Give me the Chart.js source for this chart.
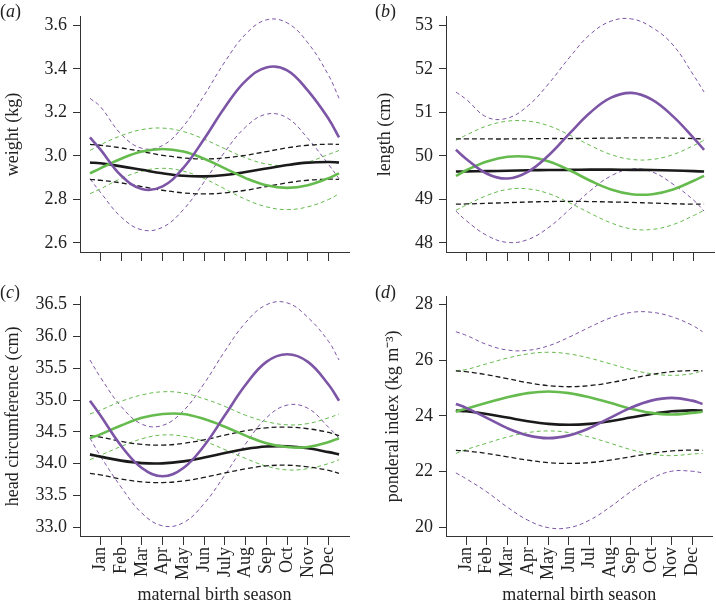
<!DOCTYPE html>
<html>
<head>
<meta charset="utf-8">
<script src="https://cdn.jsdelivr.net/npm/chart.js@4.4.1/dist/chart.umd.min.js"></script>
<style>
  body { margin: 0; background: #fff; }
  #wrap { position: relative; width: 716px; height: 607px; overflow: hidden; }
  canvas { position: absolute; }
  .tag { position: absolute; font: 18px "Liberation Serif", serif; color: #222; }
</style>
</head>
<body>
<div id="wrap">
  <canvas id="pa" width="355" height="280" style="left:0;top:0"></canvas>
  <canvas id="pb" width="350" height="280" style="left:366px;top:0"></canvas>
  <canvas id="pc" width="355" height="327" style="left:0;top:280px"></canvas>
  <canvas id="pd" width="350" height="327" style="left:366px;top:280px"></canvas>
  <span class="tag" style="left:0;top:1px">(<i>a</i>)</span>
  <span class="tag" style="left:375px;top:1px">(<i>b</i>)</span>
  <span class="tag" style="left:0;top:282px">(<i>c</i>)</span>
  <span class="tag" style="left:375px;top:282px">(<i>d</i>)</span>
</div>
<script>
// x = month position, curves run half a month past Jan and Dec
const xPos = [0.5, 1, 2, 3, 4, 5, 6, 7, 8, 9, 10, 11, 12, 12.5];
const monthTicks = [1, 2, 3, 4, 5, 6, 7, 8, 9, 10, 11, 12];
const monthsC = ['Jan', 'Feb', 'Mar', 'Apr', 'May', 'Jun', 'July', 'Aug', 'Sep', 'Oct', 'Nov', 'Dec'];
const monthsD = ['Jan', 'Feb', 'Mar', 'Apr', 'May', 'Jun', 'Jul', 'Aug', 'Sep', 'Oct', 'Nov', 'Dec'];

// (a) weight
const weightTicks = [2.6, 2.8, 3.0, 3.2, 3.4, 3.6];
const weightPurple = [3.085, 3.03, 2.91, 2.848, 2.86, 2.945, 3.078, 3.224, 3.345, 3.407, 3.394, 3.30, 3.17, 3.085];
const weightPurpleHi = [3.265, 3.227, 3.10, 3.035, 3.048, 3.137, 3.278, 3.433, 3.56, 3.626, 3.612, 3.52, 3.37, 3.265];
const weightPurpleLo = [2.895, 2.833, 2.719, 2.66, 2.672, 2.753, 2.88, 3.019, 3.133, 3.192, 3.175, 3.08, 2.96, 2.895];
const weightGreen = [2.92, 2.943, 2.987, 3.02, 3.032, 3.02, 2.987, 2.943, 2.898, 2.865, 2.853, 2.865, 2.898, 2.92];
const weightGreenHi = [3.025, 3.051, 3.093, 3.121, 3.128, 3.112, 3.077, 3.033, 2.991, 2.963, 2.956, 2.972, 3.007, 3.025];
const weightGreenLo = [2.826, 2.848, 2.896, 2.93, 2.943, 2.93, 2.896, 2.848, 2.80, 2.766, 2.753, 2.766, 2.80, 2.826];
const weightBlack = [2.97, 2.966, 2.952, 2.936, 2.92, 2.909, 2.906, 2.912, 2.926, 2.942, 2.958, 2.969, 2.972, 2.97];
const weightBlackHi = [3.053, 3.049, 3.037, 3.02, 3.003, 2.991, 2.986, 2.991, 3.003, 3.02, 3.037, 3.049, 3.054, 3.053];
const weightBlackLo = [2.892, 2.888, 2.876, 2.859, 2.842, 2.83, 2.825, 2.83, 2.842, 2.859, 2.876, 2.888, 2.893, 2.892];

// (b) length
const lengthTicks = [48, 49, 50, 51, 52, 53];
const lengthPurple = [50.14, 49.93, 49.59, 49.48, 49.64, 50.02, 50.52, 51.0, 51.34, 51.45, 51.29, 50.91, 50.41, 50.14];
const lengthPurpleHi = [51.47, 51.3, 50.89, 50.87, 51.16, 51.67, 52.27, 52.8, 53.1, 53.15, 52.95, 52.55, 51.85, 51.47];
const lengthPurpleLo = [48.73, 48.51, 48.17, 48.01, 48.08, 48.36, 48.77, 49.2, 49.54, 49.7, 49.63, 49.35, 48.98, 48.73];
const lengthGreen = [49.54, 49.67, 49.87, 49.98, 49.98, 49.87, 49.67, 49.43, 49.23, 49.12, 49.12, 49.23, 49.43, 49.54];
const lengthGreenHi = [50.36, 50.48, 50.69, 50.8, 50.8, 50.69, 50.48, 50.24, 50.03, 49.92, 49.92, 50.03, 50.24, 50.36];
const lengthGreenLo = [48.75, 48.87, 49.09, 49.23, 49.24, 49.13, 48.92, 48.68, 48.46, 48.32, 48.31, 48.42, 48.63, 48.75];
const lengthBlack = [49.64, 49.645, 49.65, 49.66, 49.67, 49.675, 49.68, 49.685, 49.685, 49.68, 49.675, 49.665, 49.65, 49.64];
const lengthBlackHi = [50.39, 50.39, 50.39, 50.39, 50.395, 50.4, 50.4, 50.405, 50.41, 50.415, 50.415, 50.41, 50.4, 50.39];
const lengthBlackLo = [48.89, 48.895, 48.91, 48.925, 48.94, 48.95, 48.955, 48.95, 48.94, 48.93, 48.915, 48.9, 48.89, 48.89];

// (c) head circumference
const headTicks = [33.0, 33.5, 34.0, 34.5, 35.0, 35.5, 36.0, 36.5];
const headPurple = [34.99, 34.76, 34.28, 33.93, 33.8, 33.93, 34.28, 34.76, 35.24, 35.6, 35.72, 35.6, 35.24, 34.99];
const headPurpleHi = [35.63, 35.36, 34.9, 34.62, 34.6, 34.83, 35.26, 35.77, 36.22, 36.5, 36.53, 36.3, 35.92, 35.63];
const headPurpleLo = [34.4, 34.12, 33.63, 33.22, 33.02, 33.07, 33.37, 33.82, 34.31, 34.72, 34.92, 34.87, 34.57, 34.4];
const headGreen = [34.4, 34.46, 34.6, 34.72, 34.78, 34.78, 34.7, 34.58, 34.44, 34.32, 34.26, 34.26, 34.34, 34.4];
const headGreenHi = [34.78, 34.84, 34.98, 35.08, 35.13, 35.11, 35.02, 34.9, 34.76, 34.66, 34.61, 34.63, 34.72, 34.78];
const headGreenLo = [34.06, 34.13, 34.27, 34.39, 34.45, 34.43, 34.35, 34.22, 34.08, 33.96, 33.9, 33.92, 34.0, 34.06];
const headBlack = [34.145, 34.109, 34.046, 34.007, 34.003, 34.035, 34.095, 34.166, 34.229, 34.268, 34.272, 34.24, 34.18, 34.145];
const headBlackHi = [34.44, 34.418, 34.349, 34.302, 34.291, 34.317, 34.374, 34.447, 34.516, 34.563, 34.574, 34.548, 34.49, 34.44];
const headBlackLo = [33.845, 33.823, 33.757, 33.712, 33.701, 33.726, 33.782, 33.852, 33.918, 33.963, 33.974, 33.949, 33.893, 33.845];

// (d) ponderal index
const ponderalTicks = [20, 22, 24, 26, 28];
const ponderalPurple = [24.43, 24.29, 23.93, 23.56, 23.3, 23.2, 23.3, 23.56, 23.93, 24.29, 24.55, 24.65, 24.55, 24.43];
const ponderalPurpleHi = [27.03, 26.9, 26.57, 26.37, 26.36, 26.52, 26.83, 27.19, 27.52, 27.72, 27.73, 27.57, 27.26, 27.03];
const ponderalPurpleLo = [21.95, 21.74, 21.27, 20.72, 20.25, 19.98, 19.98, 20.25, 20.72, 21.27, 21.74, 22.01, 22.01, 21.95];
const ponderalGreen = [24.15, 24.26, 24.47, 24.67, 24.82, 24.88, 24.82, 24.67, 24.47, 24.26, 24.11, 24.05, 24.11, 24.15];
const ponderalGreenHi = [25.63, 25.67, 25.875, 26.08, 26.23, 26.29, 26.23, 26.08, 25.875, 25.67, 25.52, 25.46, 25.52, 25.63];
const ponderalGreenLo = [22.65, 22.79, 23.02, 23.24, 23.4, 23.46, 23.4, 23.24, 23.02, 22.79, 22.63, 22.57, 22.63, 22.65];
const ponderalBlack = [24.19, 24.165, 24.07, 23.94, 23.81, 23.715, 23.68, 23.715, 23.81, 23.94, 24.07, 24.165, 24.2, 24.19];
const ponderalBlackHi = [25.62, 25.59, 25.485, 25.34, 25.195, 25.09, 25.05, 25.09, 25.195, 25.34, 25.485, 25.59, 25.63, 25.62];
const ponderalBlackLo = [22.76, 22.74, 22.65, 22.53, 22.41, 22.32, 22.29, 22.32, 22.41, 22.53, 22.65, 22.74, 22.77, 22.76];

const PURPLE = '#7d55a6';
const GREEN = '#66bb4e';
const BLACK = '#1a1a1a';
const AXIS = '#333';
const serif = '"Liberation Serif", "Times New Roman", serif';

function pts(vals) {
  return vals.map((v, i) => ({ x: xPos[i], y: v }));
}

function solid(vals, color) {
  return { data: pts(vals), borderColor: color, borderWidth: 2.6, pointRadius: 0, tension: 0.4 };
}

function dashed(vals, color, isBlack) {
  return {
    data: pts(vals), borderColor: color, pointRadius: 0, tension: 0.4,
    borderWidth: isBlack ? 1.3 : 1,
    borderDash: isBlack ? [5, 3] : [4, 3]
  };
}

function makePanel(id, p) {
  // solid lines first so they are drawn on top
  const datasets = [
    solid(p.purple[0], PURPLE), solid(p.green[0], GREEN), solid(p.black[0], BLACK),
    dashed(p.black[1], BLACK, true), dashed(p.black[2], BLACK, true),
    dashed(p.green[1], GREEN), dashed(p.green[2], GREEN),
    dashed(p.purple[1], PURPLE), dashed(p.purple[2], PURPLE)
  ];

  new Chart(document.getElementById(id), {
    type: 'line',
    data: { datasets },
    options: {
      responsive: false,
      animation: false,
      devicePixelRatio: 1,
      layout: { padding: { top: p.padTop, right: p.padRight, left: 0, bottom: 0 } },
      plugins: { legend: { display: false }, tooltip: { enabled: false } },
      scales: {
        x: {
          type: 'linear',
          min: 0.02,
          max: 12.98,
          afterBuildTicks: s => { s.ticks = monthTicks.map(v => ({ value: v })); },
          afterFit: s => { s.height = p.xHeight; },
          ticks: {
            display: !!p.months,
            autoSkip: false,
            minRotation: 90,
            maxRotation: 90,
            padding: 2,
            color: '#222',
            font: { family: serif, size: 18 },
            callback: v => p.months ? p.months[v - 1] : ''
          },
          grid: { drawOnChartArea: false, drawTicks: true, tickLength: 9, color: AXIS },
          border: { display: true, color: AXIS, width: 1 },
          title: {
            display: !!p.months,
            text: 'maternal birth season',
            color: '#222',
            font: { family: serif, size: 18 },
            padding: { top: 0, bottom: 1 }
          }
        },
        y: {
          min: p.yMin,
          max: p.yMax,
          afterBuildTicks: s => { s.ticks = p.yTicks.map(v => ({ value: v })); },
          afterFit: s => { s.width = 80; },
          ticks: {
            padding: 6,
            color: '#222',
            font: { family: serif, size: 18 },
            callback: v => v.toFixed(p.dec)
          },
          grid: { drawOnChartArea: false, drawTicks: true, tickLength: 7, color: AXIS },
          border: { display: true, color: AXIS, width: 1 },
          title: {
            display: true,
            text: p.yTitle,
            color: '#222',
            font: { family: serif, size: 18 },
            padding: { top: p.titlePad, bottom: 0 }
          }
        }
      }
    }
  });
}

makePanel('pa', {
  purple: [weightPurple, weightPurpleHi, weightPurpleLo],
  green: [weightGreen, weightGreenHi, weightGreenLo],
  black: [weightBlack, weightBlackHi, weightBlackLo],
  yTicks: weightTicks, yMin: 2.558, yMax: 3.64, dec: 1,
  yTitle: 'weight (kg)', titlePad: 2,
  padTop: 0, padRight: 6, xHeight: 28, months: null
});

makePanel('pb', {
  purple: [lengthPurple, lengthPurpleHi, lengthPurpleLo],
  green: [lengthGreen, lengthGreenHi, lengthGreenLo],
  black: [lengthBlack, lengthBlackHi, lengthBlackLo],
  yTicks: lengthTicks, yMin: 47.79, yMax: 53.2, dec: 0,
  yTitle: 'length (cm)', titlePad: 8,
  padTop: 0, padRight: 2, xHeight: 28, months: null
});

makePanel('pc', {
  purple: [headPurple, headPurpleHi, headPurpleLo],
  green: [headGreen, headGreenHi, headGreenLo],
  black: [headBlack, headBlackHi, headBlackLo],
  yTicks: headTicks, yMin: 32.86, yMax: 36.625, dec: 1,
  yTitle: 'head circumference (cm)', titlePad: 2,
  padTop: 5, padRight: 6, xHeight: 71, months: monthsC
});

makePanel('pd', {
  purple: [ponderalPurple, ponderalPurpleHi, ponderalPurpleLo],
  green: [ponderalGreen, ponderalGreenHi, ponderalGreenLo],
  black: [ponderalBlack, ponderalBlackHi, ponderalBlackLo],
  yTicks: ponderalTicks, yMin: 19.68, yMax: 28.285, dec: 0,
  yTitle: 'ponderal index (kg m\u207B\u00B3)', titlePad: 16,
  padTop: 5, padRight: 2, xHeight: 71, months: monthsD
});
</script>
</body>
</html>
